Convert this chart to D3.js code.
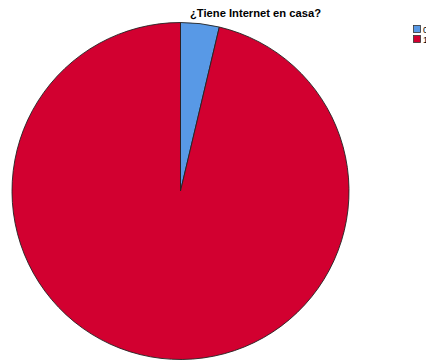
<!DOCTYPE html>
<html><head><meta charset="utf-8">
<script src="https://d3js.org/d3.v7.min.js"></script>
<style>html,body{margin:0;padding:0;background:#fff;overflow:hidden}</style>
</head><body>
<svg id="c" width="426" height="361"></svg>
<script>
const title = "¿Tiene Internet en casa?";
const categories = ["0", "1"];
const values = [3.7, 96.3];
const colors = ["#5899e6", "#d20030"];

const svg = d3.select("#c");
svg.append("rect").attr("width",426).attr("height",361).attr("fill","#fff");

svg.append("text").attr("x",255.5).attr("y",16.5).attr("text-anchor","middle")
  .attr("font-family","Liberation Sans, Arial, sans-serif").attr("font-weight","bold")
  .attr("font-size",11.2).attr("fill","#000").text(title);

const cx = 180.5, cy = 191, r = 168.5;
const pie = d3.pie().sort(null).value(d => d)(values);
const arc = d3.arc().innerRadius(0).outerRadius(r);
const g = svg.append("g").attr("transform",`translate(${cx},${cy})`);
g.selectAll("path").data(pie).join("path")
  .attr("d", arc).attr("fill",(d,i)=>colors[i])
  .attr("stroke","#222").attr("stroke-width",0.9).attr("stroke-linejoin","round");

const lg = svg.append("g").attr("transform","translate(413,25)");
const items = lg.selectAll("g").data(categories).join("g")
  .attr("transform",(d,i)=>`translate(0,${i*10})`);
items.append("rect").attr("x",0.5).attr("y",0.5).attr("width",7).attr("height",7)
  .attr("fill",(d,i)=>colors[i]).attr("stroke","#333").attr("stroke-width",0.8);
items.append("text").attr("x",10).attr("y",7.5)
  .attr("font-family","Liberation Sans, Arial, sans-serif").attr("font-size",9)
  .attr("fill","#000").text(d=>d);
</script>
</body></html>
